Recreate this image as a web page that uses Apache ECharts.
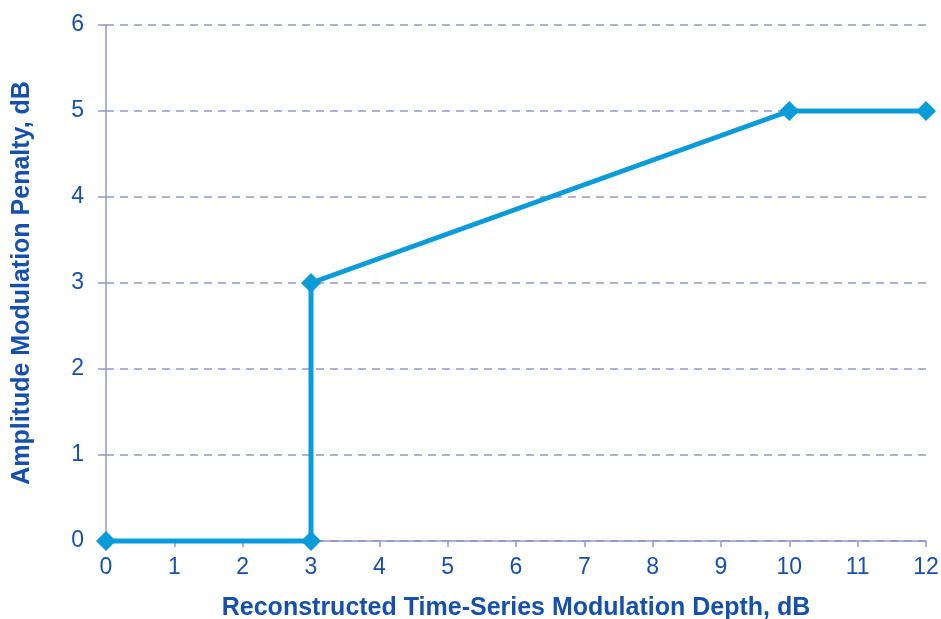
<!DOCTYPE html>
<html>
<head>
<meta charset="utf-8">
<script src="https://cdn.jsdelivr.net/npm/echarts@6/dist/echarts.min.js"></script>
<style>html,body{margin:0;padding:0;background:#fff}#c{width:941px;height:619px}</style>
</head>
<body>
<div id="c"></div>
<script>
var xValues = [0, 3, 3, 10, 12];
var yValues = [0, 0, 3, 5, 5];
var xTitle = 'Reconstructed Time-Series Modulation Depth, dB';
var yTitle = 'Amplitude Modulation Penalty, dB';

var chart = echarts.init(document.getElementById('c'));
var axisColor = '#9198c9';
var textColor = '#1650ae';
chart.setOption({
  animation: false,
  grid: {left: 106, right: 15, top: 25, bottom: 78, containLabel: false, outerBoundsMode: 'none'},
  xAxis: {
    type: 'value', min: 0, max: 12, interval: 1,
    name: xTitle, nameLocation: 'middle', nameGap: 55,
    nameTextStyle: {fontFamily: 'Liberation Sans', fontSize: 25, fontWeight: 'bold', color: textColor},
    axisLine: {lineStyle: {color: axisColor, width: 1.5}},
    axisTick: {show: true, length: 6, lineStyle: {color: axisColor, width: 1.5}},
    axisLabel: {fontFamily: 'Liberation Sans', fontSize: 23, color: textColor, margin: 15},
    splitLine: {show: false}
  },
  yAxis: {
    type: 'value', min: 0, max: 6, interval: 1,
    name: yTitle, nameLocation: 'middle', nameGap: 71, nameRotate: 90,
    nameTextStyle: {fontFamily: 'Liberation Sans', fontSize: 25, fontWeight: 'bold', color: textColor},
    axisLine: {show: true, lineStyle: {color: axisColor, width: 1.5}},
    axisTick: {show: true, length: 8, lineStyle: {color: axisColor, width: 1.5}},
    axisLabel: {fontFamily: 'Liberation Sans', fontSize: 23, color: textColor, margin: 22},
    splitLine: {show: true, lineStyle: {color: axisColor, type: [8, 6], width: 1.5}}
  },
  series: [{
    type: 'line',
    data: xValues.map(function (x, i) { return [x, yValues[i]]; }),
    symbol: 'diamond', symbolSize: 20,
    lineStyle: {color: '#0a9bd9', width: 5},
    itemStyle: {color: '#0a9bd9'},
    clip: false
  }]
});
</script>
</body>
</html>
